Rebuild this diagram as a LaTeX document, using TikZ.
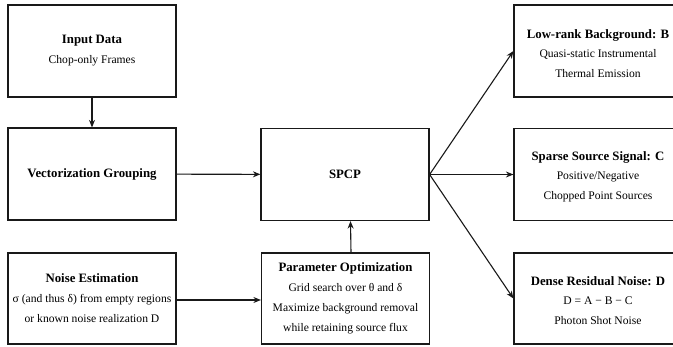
\documentclass[tikz,border=0pt]{standalone}
\usepackage{fontspec}
\setmainfont{Liberation Serif}
\usetikzlibrary{arrows.meta,positioning}
\newcommand{\ttl}[1]{{\fontsize{12.8}{20}\selectfont\bfseries #1}}
\tikzset{
  blk/.style={draw=black!90, line width=1.2pt, rectangle, minimum width=168pt, minimum height=92pt,
    inner sep=0pt, align=center, font=\fontsize{11.6}{20}\selectfont},
  txt/.style={inner sep=0pt, align=center, font=\fontsize{11.6}{20}\selectfont},
  arr/.style={draw=black!90, line width=1.1pt, -{Stealth[length=7.5pt,width=6pt]}},
}
\begin{document}
\begin{tikzpicture}[x=1pt,y=-1pt]
\clip (0,0) rectangle (673,346);
\fill[white] (0,0) rectangle (673,346);
\node[blk] (input) at (92,51) {\ttl{Input Data}\\Chop-only Frames};
\node[blk] (vec) at (92,174) {\ttl{Vectorization Grouping}};
\node[blk, minimum height=91pt] (noise) at (92,298.5) {\ttl{Noise Estimation}\\σ (and thus δ) from empty regions\\or known noise realization D};
\node[blk] (spcp) at (345,174.5) {\ttl{SPCP}};
\node[blk, minimum height=91pt] (param) at (345.5,298.5) {\ttl{Parameter Optimization}\\Grid search over θ and δ\\Maximize background removal\\while retaining source flux};
\node[blk] (low) at (598,51) {};
\node[txt] (lowtxt) at (598,54) {\ttl{Low-rank Background: B}\\[-1pt]Quasi-static Instrumental\\Thermal Emission};
\node[blk] (sparse) at (598,174.5) {};
\node[txt] (sparsetxt) at (598,177) {\ttl{Sparse Source Signal: C}\\[-1pt]Positive/Negative\\Chopped Point Sources};
\node[blk, minimum height=91pt] (dense) at (598,298.5) {};
\node[txt] (densetxt) at (598,300.5) {\ttl{Dense Residual Noise: D}\\[-1pt]D = A − B − C\\Photon Shot Noise};
\draw[arr] (input) -- (vec);
\draw[arr] (vec) -- (spcp);
\draw[arr] (noise.east |- 0,300) -- (param.west |- 0,300);
\draw[arr] ([xshift=5.5pt]param.north) -- ([xshift=5.5pt]spcp.south);
\draw[arr] (spcp.east) -- (low.west);
\draw[arr] (spcp.east) -- (sparse.west);
\draw[arr] (spcp.east) -- (dense.west);
\end{tikzpicture}
\end{document}
